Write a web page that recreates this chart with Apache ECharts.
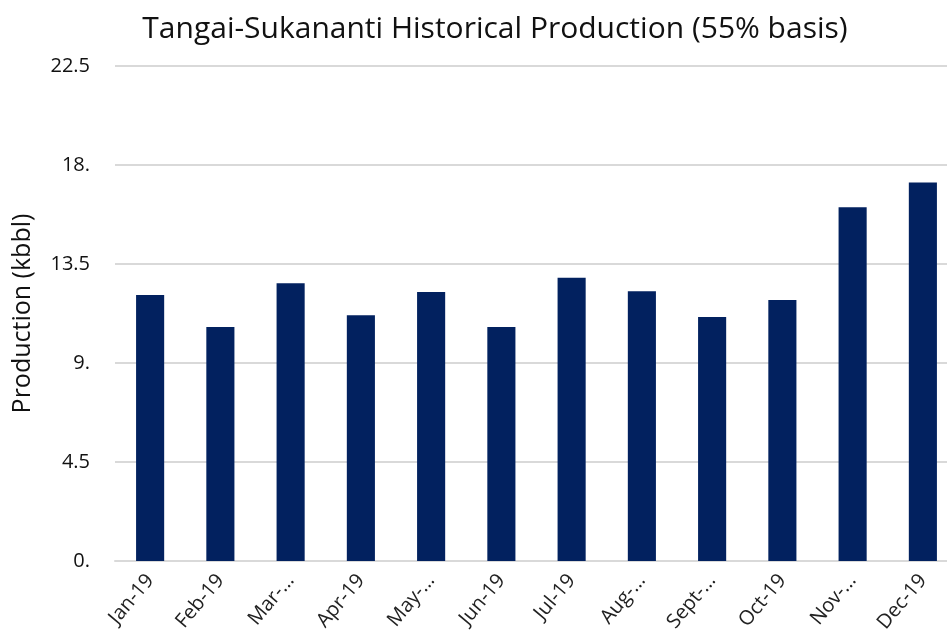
<!DOCTYPE html>
<html>
<head>
<meta charset="utf-8">
<script src="https://cdn.jsdelivr.net/npm/echarts@6/dist/echarts.min.js"></script>
<style>
  html, body { margin: 0; padding: 0; background: #fff; }
  #chart { width: 947px; height: 644px; }
</style>
</head>
<body>
<div id="chart"></div>
<script>
// 月份标签(原图里有截断)
const months = ['Jan-19', 'Feb-19', 'Mar-...', 'Apr-19', 'May-...', 'Jun-19',
                'Jul-19', 'Aug-...', 'Sept-...', 'Oct-19', 'Nov-...', 'Dec-19'];
// 产量 (kbbl)
const production = [12.09, 10.64, 12.62, 11.17, 12.23, 10.64,
                    12.88, 12.26, 11.09, 11.86, 16.08, 17.2];
// 纵轴刻度标签
const yTickLabels = { 0: '0.', 4.5: '4.5', 9: '9.', 13.5: '13.5', 18: '18.', 22.5: '22.5' };

const FONT = 'Open Sans';

const chart = echarts.init(document.getElementById('chart'));
chart.setOption({
    animation: false,
    title: {
        text: 'Tangai-Sukananti Historical Production (55% basis)',
        left: 490, top: 9, textAlign: 'center',
        textStyle: { fontFamily: FONT, fontSize: 30, fontWeight: 'normal', color: '#111' }
    },
    grid: { left: 115, top: 66, width: 843, height: 495, outerBoundsMode: 'none' },
    xAxis: {
        type: 'category',
        data: months,
        axisLine: { lineStyle: { color: '#d9d9d9', width: 2 } },
        axisTick: { show: false },
        axisLabel: {
            rotate: 50, interval: 0, margin: 16,
            fontFamily: FONT, fontSize: 20, color: '#222'
        }
    },
    yAxis: {
        type: 'value',
        min: 0, max: 22.5, interval: 4.5,
        name: 'Production (kbbl)',
        nameLocation: 'middle', nameGap: 80, nameRotate: 90,
        nameTextStyle: { fontFamily: FONT, fontSize: 25, color: '#111' },
        axisLine: { show: false },
        axisTick: { show: false },
        splitLine: { lineStyle: { color: '#d9d9d9', width: 2 } },
        axisLabel: {
            margin: 25, fontFamily: FONT, fontSize: 20, color: '#111',
            formatter: v => yTickLabels[v] ?? String(v)
        }
    },
    series: [{
        type: 'bar',
        data: production,
        barWidth: '40%',
        itemStyle: { color: '#02215f' }
    }]
});
</script>
</body>
</html>
